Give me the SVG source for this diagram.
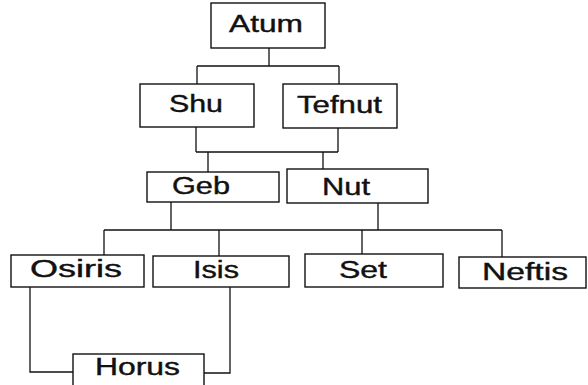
<svg xmlns="http://www.w3.org/2000/svg" width="588" height="385" viewBox="0 0 588 385">
<style>
.box{fill:#fff;stroke:#111;stroke-width:1.4}
.lbl{font-family:"Liberation Sans",Arial,sans-serif;font-size:23px;fill:#111;stroke:#111;stroke-width:0.4}
.ln{fill:none;stroke:#111;stroke-width:1.3}
</style>
<rect width="588" height="385" fill="#fff"/>
<g id="connectors">
<path class="ln" d="M269,48V66M197,66H339M197,66V84M339,66V84"/>
<path class="ln" d="M196,127V152M338,128V152M196,152H338M208,152V172M323,152V169"/>
<path class="ln" d="M171,202V230M378,203V230M104,230H502M104,230V255M219,230V256M362,230V254M502,230V257"/>
<path class="ln" d="M30,287V372H73M230,287V373H204"/>
</g>
<g id="atum"><rect class="box" x="211" y="3" width="114" height="45"/><text class="lbl" x="229" y="32" textLength="74" lengthAdjust="spacingAndGlyphs">Atum</text></g>
<g id="shu"><rect class="box" x="140" y="84" width="114" height="43"/><text class="lbl" x="169" y="112" textLength="54" lengthAdjust="spacingAndGlyphs">Shu</text></g>
<g id="tefnut"><rect class="box" x="283" y="84" width="114" height="44"/><text class="lbl" x="297" y="113" textLength="85" lengthAdjust="spacingAndGlyphs">Tefnut</text></g>
<g id="geb"><rect class="box" x="147" y="172" width="132" height="30"/><text class="lbl" x="172" y="194" textLength="58" lengthAdjust="spacingAndGlyphs">Geb</text></g>
<g id="nut"><rect class="box" x="287" y="169" width="141" height="34"/><text class="lbl" x="322" y="195" textLength="48" lengthAdjust="spacingAndGlyphs">Nut</text></g>
<g id="osiris"><rect class="box" x="11" y="255" width="133" height="32"/><text class="lbl" x="30" y="277" textLength="92" lengthAdjust="spacingAndGlyphs">Osiris</text></g>
<g id="isis"><rect class="box" x="153" y="256" width="136" height="31"/><text class="lbl" x="193" y="278" textLength="46" lengthAdjust="spacingAndGlyphs">Isis</text></g>
<g id="set"><rect class="box" x="305" y="254" width="138" height="33"/><text class="lbl" x="339" y="278" textLength="48" lengthAdjust="spacingAndGlyphs">Set</text></g>
<g id="neftis"><rect class="box" x="459" y="257" width="127" height="31"/><text class="lbl" x="482" y="280" textLength="86" lengthAdjust="spacingAndGlyphs">Neftis</text></g>
<g id="horus"><rect class="box" x="73" y="354" width="131" height="40"/><text class="lbl" x="95" y="375" textLength="85" lengthAdjust="spacingAndGlyphs">Horus</text></g>
</svg>
